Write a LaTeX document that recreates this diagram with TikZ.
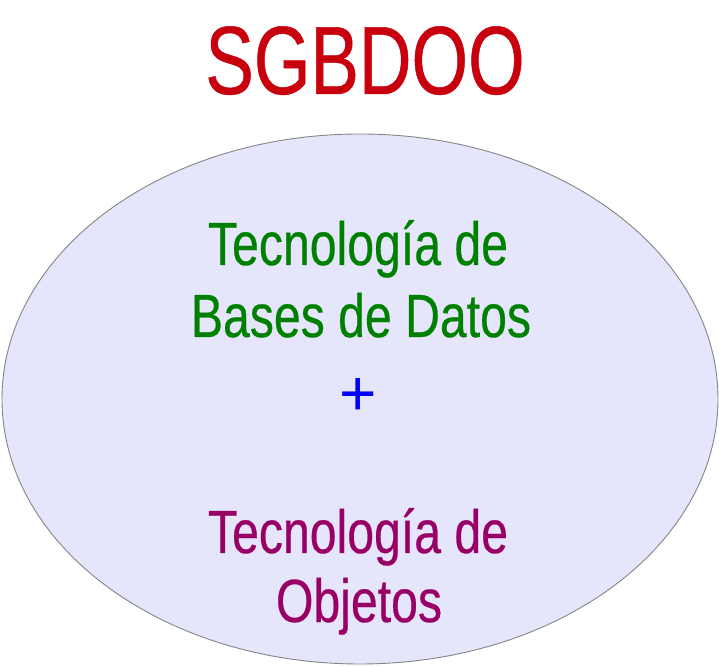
\documentclass[tikz,border=0pt]{standalone}
\usepackage{fontspec}
\setmainfont{Liberation Sans}[FakeStretch=0.79, FakeBold=0.4]
\newfontfamily\titlefont{Liberation Sans}[FakeStretch=0.75, FakeBold=0.5]
\newfontfamily\plusfont{Liberation Sans}
\definecolor{titlered}{HTML}{C8000E}
\definecolor{dbgreen}{HTML}{008000}
\definecolor{objpurple}{HTML}{990066}
\definecolor{plusblue}{HTML}{0000FF}
\definecolor{ovalfill}{HTML}{E5E5FB}
\definecolor{ovalline}{HTML}{858585}
\tikzset{
  title/.style={anchor=base, inner sep=0pt, text=titlered, font=\titlefont\fontsize{97}{97}\selectfont},
  body/.style={anchor=base, inner sep=0pt, font=\fontsize{61}{61}\selectfont},
  oval/.style={fill=ovalfill, draw=ovalline, line width=0.9pt}
}
\begin{document}
\begin{tikzpicture}[x=1pt,y=1pt]
  \useasboundingbox (0,0) rectangle (719,666);
  % the outer oval
  \draw[oval] (360,267) ellipse [x radius=358, y radius=265];
  % heading
  \node[title] (head) at (365,572) {SGBDOO};
  % database technology
  \node[body, text=dbgreen] (db1) at (358,401) {Tecnología de};
  \node[body, text=dbgreen] (db2) at (361,329) {Bases de Datos};
  % plus sign
  \node[anchor=base, inner sep=0pt, text=plusblue, font=\plusfont\fontsize{64}{64}\selectfont] (plus) at (358.5,250) {+};
  % object technology
  \node[body, text=objpurple] (ob1) at (358,113) {Tecnología de};
  \node[body, text=objpurple] (ob2) at (359,44) {Objetos};
\end{tikzpicture}
\end{document}
